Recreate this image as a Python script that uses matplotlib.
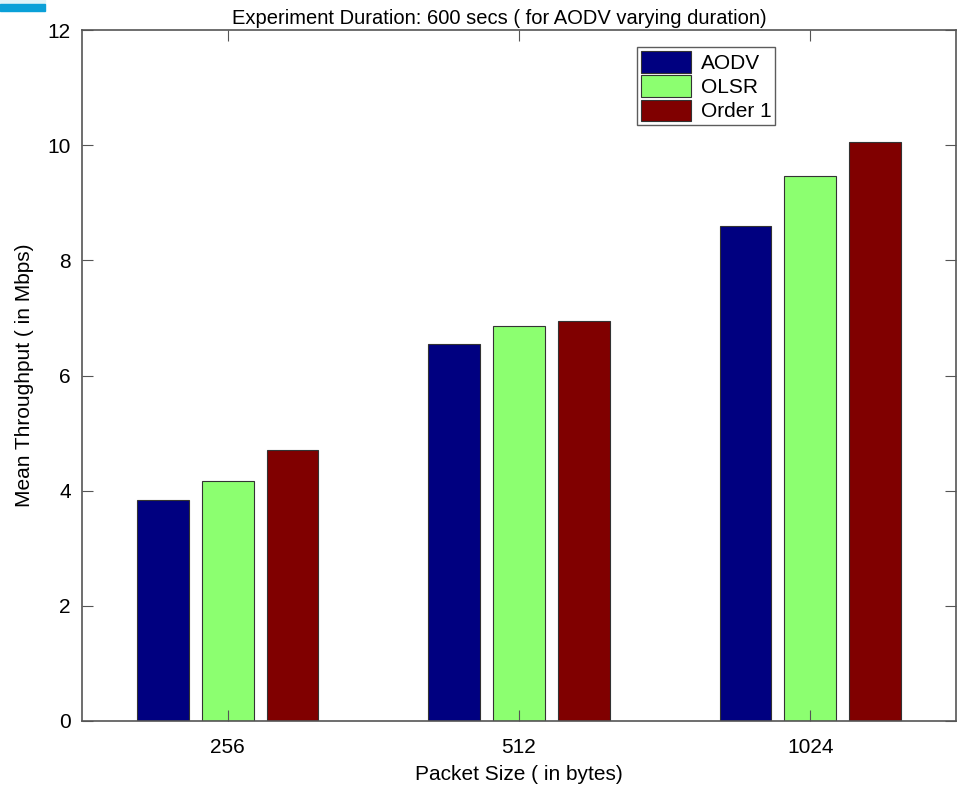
import matplotlib
matplotlib.use("Agg")
import matplotlib.pyplot as plt
import numpy as np
from matplotlib.patches import Rectangle

plt.rcParams["font.family"] = ["Liberation Sans", "DejaVu Sans"]

# packet sizes and mean throughput per protocol (Mbps)
packet_sizes = ["256", "512", "1024"]
series_names = ["AODV", "OLSR", "Order 1"]
aodv = [3.84, 6.55, 8.60]
olsr = [4.16, 6.86, 9.47]
order1 = [4.71, 6.95, 10.06]
yticks = [0, 2, 4, 6, 8, 10, 12]

colors = ["#000080", "#8cff70", "#800000"]


def main() -> None:
    fig = plt.figure(figsize=(9.58, 7.89), dpi=100)
    ax = fig.add_axes([82 / 958, 68 / 789, 874 / 958, 691 / 789])

    # slide accent in the top-left corner
    fig.patches.append(Rectangle((0, 1 - 4 / 789), 45 / 958, 4 / 789,
                                 transform=fig.transFigure, color="#dff3f8", zorder=0))
    fig.patches.append(Rectangle((0, 1 - 11 / 789), 45 / 958, 7 / 789,
                                 transform=fig.transFigure, color="#0aa0d8", zorder=0))

    x = np.arange(1, len(packet_sizes) + 1)
    step = 0.667 / 3
    width = 0.8 * step
    for k, (name, vals) in enumerate(zip(series_names, [aodv, olsr, order1])):
        ax.bar(x + (k - 1) * step, vals, width, color=colors[k],
               edgecolor="#333333", linewidth=0.8, label=name)

    ax.set_xlim(0.5, 3.5)
    ax.set_ylim(0, 12)
    ax.set_xticks(x)
    ax.set_xticklabels(packet_sizes)
    ax.set_yticks(yticks)
    ax.tick_params(direction="in", length=8, width=0.8, color="#555555",
                   labelsize=15, top=True, right=True)
    ax.tick_params(axis="x", pad=12)
    ax.tick_params(axis="y", pad=8)
    for s in ax.spines.values():
        s.set_color("#555555")
        s.set_linewidth(1.2)

    ax.set_xlabel("Packet Size ( in bytes)", fontsize=15, labelpad=6)
    ax.set_ylabel("Mean Throughput ( in Mbps)", fontsize=15, labelpad=10)
    fig.text(499 / 958, 1 - 19 / 789,
             "Experiment Duration: 600 secs ( for AODV varying duration)",
             ha="center", va="center", fontsize=14.5)

    leg = ax.legend(loc="upper left", bbox_to_anchor=((637 - 82) / 874, 1 - 17 / 691),
                    fontsize=15, frameon=True, fancybox=False, borderaxespad=0,
                    handlelength=2.4, handleheight=1.2, labelspacing=0.12,
                    borderpad=0.2, handletextpad=0.45)
    leg.get_frame().set_edgecolor("#333333")
    leg.get_frame().set_linewidth(1.0)

    fig.savefig("out.png", dpi=100)


if __name__ == "__main__":
    main()
